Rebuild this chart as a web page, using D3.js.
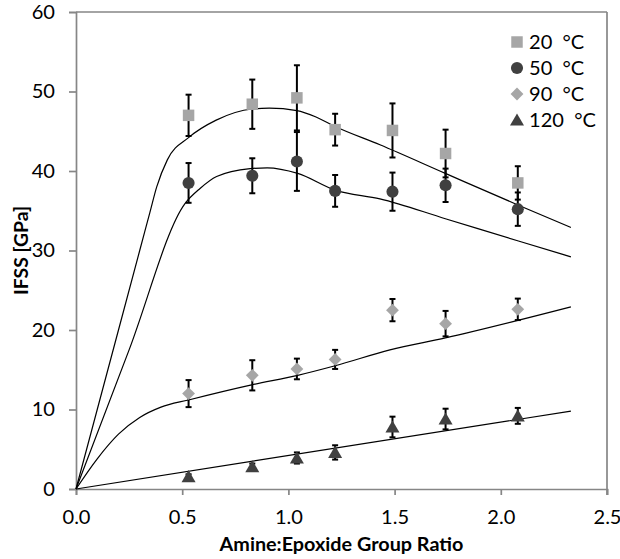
<!DOCTYPE html>
<html><head><meta charset="utf-8">
<script src="https://cdn.jsdelivr.net/npm/d3@7"></script>
<style>
html,body{margin:0;padding:0;background:#fff;}
svg text{font-family:Lato,"Open Sans",sans-serif;}
</style></head>
<body><svg id="c" width="620" height="559"></svg>
<script>
// ---- data ----
const ratios = [0.53, 0.83, 1.04, 1.22, 1.49, 1.74, 2.08];
const series = ["20  °C", "50  °C", "90  °C", "120  °C"];
const ifss20 = [47.0, 48.4, 49.2, 45.2, 45.1, 42.2, 38.5];
const err20  = [2.6, 3.1, 4.1, 2.0, 3.4, 3.0, 2.1];
const ifss50 = [38.5, 39.4, 41.2, 37.5, 37.4, 38.2, 35.2];
const err50  = [2.5, 2.2, 3.7, 2.0, 2.4, 2.1, 2.1];
const ifss90 = [12.0, 14.3, 15.1, 16.3, 22.5, 20.8, 22.6];
const err90  = [1.7, 1.9, 1.3, 1.2, 1.4, 1.6, 1.35];
const ifss120 = [1.55, 2.8, 3.9, 4.6, 7.8, 8.8, 9.2];
const err120  = [0.3, 0.4, 0.7, 0.9, 1.3, 1.3, 1.0];

// fitted model curves
const fit20X = [0, 0.1, 0.2, 0.3, 0.348, 0.38, 0.43, 0.53, 0.66, 0.83, 0.91, 1.04, 1.13, 1.22, 1.431, 1.739, 2.083, 2.33];
const fit20Y = [0, 10.0, 20.0, 30.0, 34.8, 38.0, 41.4, 44.2, 46.4, 47.8, 47.9, 47.6, 46.8, 45.6, 43.3, 39.7, 35.7, 32.9];
const fit50X = [0, 0.25, 0.513, 0.584, 0.662, 0.82, 0.9, 1.044, 1.22, 1.431, 1.739, 2.083, 2.33];
const fit50Y = [0, 17.5, 35.9, 37.8, 39.3, 40.3, 40.4, 39.7, 37.6, 36.5, 34.0, 31.2, 29.2];
const fit90X = [0, 0.1, 0.2, 0.3, 0.4, 0.53, 0.827, 1.044, 1.22, 1.478, 1.739, 2.33];
const fit90Y = [0, 3.8, 6.9, 9.0, 10.3, 11.2, 13.1, 14.3, 15.5, 17.5, 19.0, 22.9];
const fit120X = [0, 2.33];
const fit120Y = [0, 9.8];

const xTicks = [0, 0.5, 1.0, 1.5, 2.0, 2.5];
const yTicks = [0, 10, 20, 30, 40, 50, 60];
const xTitle = "Amine:Epoxide Group Ratio";
const yTitle = "IFSS [GPa]";

// ---- layout ----
const svg = d3.select("#c");
const L = 76, R = 607, T = 12, B = 489;
const x = d3.scaleLinear().domain([0, 2.5]).range([L, R]);
const y = d3.scaleLinear().domain([0, 60]).range([B, T]);
const axisCol = "#868686";

function fitFont(sel, target) {
  const w = sel.node().getComputedTextLength();
  const fs = parseFloat(sel.style("font-size"));
  sel.style("font-size", (fs * target / w) + "px");
}

// plot frame (top & right)
svg.append("line").attr("x1", L).attr("x2", R).attr("y1", T).attr("y2", T)
  .attr("stroke", axisCol).attr("stroke-width", 1.7);
svg.append("line").attr("x1", R).attr("x2", R).attr("y1", T).attr("y2", B + 6)
  .attr("stroke", axisCol).attr("stroke-width", 1.7);

// measure tick font size from "0.0" width
const probe = svg.append("text").style("font-size", "16px").text("0.0");
fitFont(probe, 28);
const tickFs = parseFloat(probe.style("font-size"));
probe.remove();

const xAxis = svg.append("g").attr("transform", `translate(0,${B})`)
  .call(d3.axisBottom(x).tickValues(xTicks).tickFormat(d3.format(".1f")).tickSize(6).tickPadding(15));
const yAxis = svg.append("g").attr("transform", `translate(${L},0)`)
  .call(d3.axisLeft(y).tickValues(yTicks).tickSize(7).tickPadding(14));
[xAxis, yAxis].forEach(g => {
  g.select(".domain").attr("stroke", axisCol).attr("stroke-width", 1.7);
  g.selectAll(".tick line").attr("stroke", axisCol).attr("stroke-width", 1.7);
  g.selectAll(".tick text").attr("fill", "#000").style("font-size", tickFs + "px").style("font-family", "Lato, sans-serif");
});

// axis titles
const xt = svg.append("text").attr("x", (L + R) / 2).attr("y", 551).attr("text-anchor", "middle")
  .style("font-size", "18px").style("font-weight", "bold").text(xTitle);
fitFont(xt, 244);
const yt = svg.append("text").attr("transform", `translate(28,${(T + B) / 2}) rotate(-90)`).attr("text-anchor", "middle")
  .style("font-size", "18px").style("font-weight", "bold").text(yTitle);
fitFont(yt, 89);

// fit curves
const line = d3.line().x(d => x(d[0])).y(d => y(d[1])).curve(d3.curveMonotoneX);
[[fit20X, fit20Y], [fit50X, fit50Y], [fit90X, fit90Y], [fit120X, fit120Y]].forEach(([fx, fy]) => {
  svg.append("path").datum(fx.map((v, i) => [v, fy[i]])).attr("d", line)
    .attr("fill", "none").attr("stroke", "#000").attr("stroke-width", 1.2);
});

// marker symbols
const light = "#A6A6A6", dark = "#404040";
const sym = [
  {type: d3.symbolSquare, size: 132, color: light, vals: ifss20, errs: err20},
  {type: d3.symbolCircle, size: 115, color: dark, vals: ifss50, errs: err50},
  {type: d3.symbolDiamond2, size: 105, color: light, vals: ifss90, errs: err90},
  {type: d3.symbolTriangle, size: 85, color: dark, vals: ifss120, errs: err120}
];

sym.forEach(s => {
  const g = svg.append("g");
  ratios.forEach((r, i) => {
    const cx = x(r), top = y(s.vals[i] + s.errs[i]), bot = y(s.vals[i] - s.errs[i]);
    g.append("line").attr("x1", cx).attr("x2", cx).attr("y1", top).attr("y2", bot)
      .attr("stroke", "#000").attr("stroke-width", 2);
    [top, bot].forEach(yy => g.append("line").attr("x1", cx - 3).attr("x2", cx + 3)
      .attr("y1", yy).attr("y2", yy).attr("stroke", "#000").attr("stroke-width", 2));
  });
  ratios.forEach((r, i) => {
    const yOff = s.type === d3.symbolTriangle ? 1.5 : 0;
    g.append("path").attr("d", d3.symbol().type(s.type).size(s.size)())
      .attr("transform", `translate(${x(r)},${y(s.vals[i]) + yOff})`).attr("fill", s.color);
  });
});

// legend
const leg = svg.append("g");
series.forEach((name, i) => {
  const ly = 42 + i * 26;
  const s = sym[i];
  const yOff = s.type === d3.symbolTriangle ? 1.5 : 0;
  leg.append("path").attr("d", d3.symbol().type(s.type).size(s.size)())
    .attr("transform", `translate(517,${ly + yOff})`).attr("fill", s.color);
  const t = leg.append("text").attr("x", 529).attr("y", ly).attr("dy", "0.36em")
    .attr("xml:space", "preserve").style("white-space", "pre")
    .style("font-size", tickFs + "px").text(name);
});
</script></body></html>
